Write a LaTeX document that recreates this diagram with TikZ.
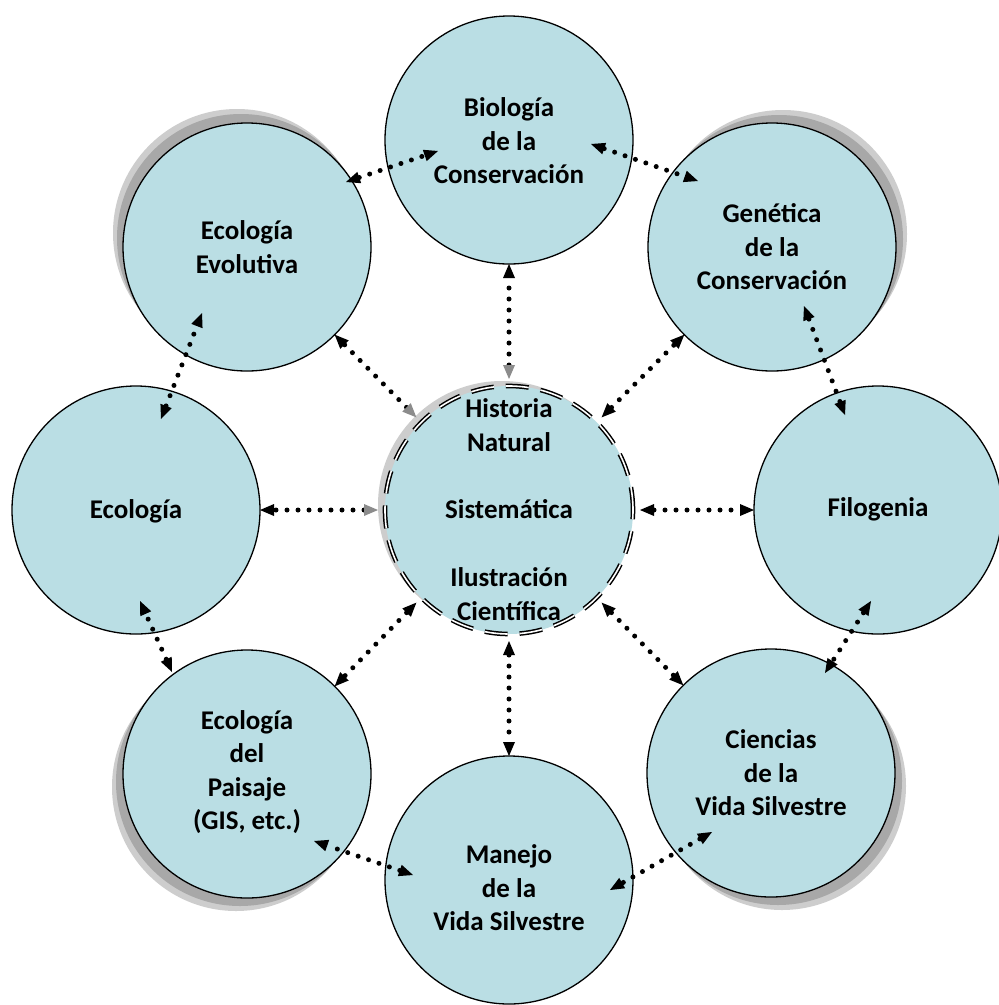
\documentclass[tikz,border=0pt]{standalone}
\usepackage{fontspec}
\setmainfont{Carlito}
\usetikzlibrary{arrows.meta}
\definecolor{bubblefill}{RGB}{186,222,228}
\definecolor{shadowgray}{RGB}{168,168,168}
\definecolor{shadowlight}{RGB}{205,205,205}
\definecolor{tipgray}{RGB}{140,140,140}
\begin{document}
\begin{tikzpicture}[x=1pt,y=-1pt,
  bubble/.style={circle,draw=black,line width=1.3pt,fill=bubblefill,minimum size=248pt,inner sep=0pt,outer sep=0pt},
  hub/.style={circle,draw=black,line width=1.5pt,double=white,double distance=1.6pt,
     dash pattern=on 23pt off 12pt,fill=bubblefill,minimum size=248pt,inner sep=0pt,outer sep=7pt},
  lbl/.style={font=\fontsize{27}{33.5}\selectfont\bfseries,align=center,text=black,inner sep=0pt},
  tipA/.tip={Triangle[length=14pt,width=12pt,line width=0pt]},
  tipG/.tip={Triangle[length=14pt,width=12pt,line width=0pt,color=tipgray]},
  conn/.style={line width=5pt,dash pattern=on 0pt off 11pt,line cap=round,tipA-tipA},
  gconn/.style={conn,tipG-tipA},
]
\fill[white] (0,0) rectangle (999,1005);
\useasboundingbox (0,0) rectangle (999,1005);

% soft shadows
\fill[shadowlight] (237,233) circle[radius=124pt];
\fill[shadowgray]  (241,238) circle[radius=124pt];
\fill[shadowlight] (783,234) circle[radius=124pt];
\fill[shadowgray]  (779,239) circle[radius=124pt];
\fill[shadowlight] (236,787) circle[radius=124pt];
\fill[shadowgray]  (240,782) circle[radius=124pt];
\fill[shadowlight] (782,786) circle[radius=124pt];
\fill[shadowgray]  (778,781) circle[radius=124pt];
\fill[shadowlight] (502,505) circle[radius=124pt];

% circles
\node[bubble] (bio) at (509,140) {};
\node[bubble] (evo) at (247,247) {};
\node[bubble] (gen) at (772,247) {};
\node[bubble] (eco) at (136,510) {};
\node[bubble] (fil) at (878,510) {};
\node[bubble] (pai) at (247,774) {};
\node[bubble] (cie) at (771,773) {};
\node[bubble] (man) at (509,880) {};
\node[hub] (ctr) at (509,510) {};

% radial connectors
\draw[gconn] (ctr.90) -- (bio.-90);
\draw[gconn] (ctr.135) -- (evo.-45);
\draw[conn] (ctr.45) -- (gen.-135);
\draw[gconn] (ctr.180) -- (eco.0);
\draw[conn] (ctr.0) -- (fil.180);
\draw[conn] (ctr.-135) -- (pai.45);
\draw[conn] (ctr.-45) -- (cie.135);
\draw[conn] (ctr.-90) -- (man.90);

% ring connectors
\coordinate (evoBio1) at (346,182); \coordinate (evoBio2) at (438,151);
\coordinate (bioGen1) at (591,144); \coordinate (bioGen2) at (698,181);
\coordinate (genFil1) at (804,306); \coordinate (genFil2) at (845,415);
\coordinate (filCie1) at (871,601); \coordinate (filCie2) at (825,673);
\coordinate (cieMan1) at (712,832); \coordinate (cieMan2) at (610,890);
\coordinate (manPai1) at (413,875); \coordinate (manPai2) at (314,841);
\coordinate (paiEco1) at (172,672); \coordinate (paiEco2) at (140,601);
\coordinate (ecoEvo1) at (161,419); \coordinate (ecoEvo2) at (202,313);
\draw[conn] (evoBio1) -- (evoBio2);
\draw[conn] (bioGen1) -- (bioGen2);
\draw[conn] (genFil1) -- (genFil2);
\draw[conn] (filCie1) -- (filCie2);
\draw[conn] (cieMan1) -- (cieMan2);
\draw[conn] (manPai1) -- (manPai2);
\draw[conn] (paiEco1) -- (paiEco2);
\draw[conn] (ecoEvo1) -- (ecoEvo2);

% labels
\node[lbl] (bioT) at (509,141) {Biología\\de la\\Conservación};
\node[lbl] (evoT) at (247,247) {Ecología\\Evolutiva};
\node[lbl] (genT) at (772,247) {Genética\\de la\\Conservación};
\node[lbl] (ecoT) at (136,511) {Ecología};
\node[lbl] (filT) at (878,509) {Filogenia};
\node[lbl] (paiT) at (247,772) {Ecología\\del\\Paisaje\\(GIS, etc.)};
\node[lbl] (cieT) at (771,773) {Ciencias\\de la\\Vida Silvestre};
\node[lbl] (manT) at (509,888) {Manejo\\de la\\Vida Silvestre};
\node[lbl] (ctrT1) at (509,425) {Historia\\Natural};
\node[lbl] (ctrT2) at (509,509) {Sistemática};
\node[lbl] (ctrT3) at (509,594) {Ilustración\\Científica};
\end{tikzpicture}
\end{document}
